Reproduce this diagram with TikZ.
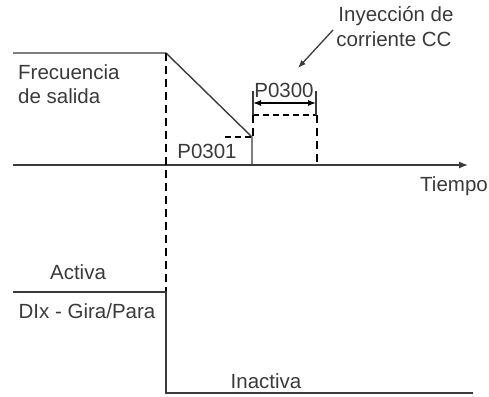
\documentclass[tikz,border=0pt]{standalone}
\usepackage{fontspec}
\setmainfont{Liberation Sans}
\usetikzlibrary{arrows.meta}
\definecolor{ink}{HTML}{3A3A3A}
\begin{document}
\begin{tikzpicture}[x=1pt,y=-1pt,
  lbl/.style={font=\fontsize{20.5}{24}\selectfont, text=ink, inner sep=0pt},
  sig/.style={draw=ink, line width=1.4pt},
  dsh/.style={draw=black, line width=1.4pt, dash pattern=on 6pt off 4pt},
  dsht/.style={draw=black, line width=1.1pt, dash pattern=on 8pt off 5pt}]
\useasboundingbox (0,0) rectangle (489,396);
% coordinates
\coordinate (f0) at (13,53);
\coordinate (f1) at (166,53);
\coordinate (f2) at (252,137);
\coordinate (f3) at (252,165);
\coordinate (ax0) at (13,165);
\coordinate (ax1) at (468,165);
\coordinate (d0) at (225,137);
\coordinate (b0) at (253,115);
\coordinate (b1) at (317,115);
\coordinate (b2) at (317,165);
\coordinate (b3) at (253,137);
\coordinate (t0a) at (253,91);
\coordinate (t0b) at (253,115);
\coordinate (t1a) at (316,91);
\coordinate (t1b) at (316,115);
\coordinate (a0) at (253,103);
\coordinate (a1) at (316,103);
\coordinate (v0) at (166,53);
\coordinate (v1) at (166,292);
\coordinate (g0) at (13,292);
\coordinate (g1) at (166,292);
\coordinate (g2) at (166,393);
\coordinate (g3) at (473,393);
\coordinate (ar0) at (333,30);
\coordinate (ar1) at (298,68);
% output frequency
\draw[sig] (f0) -- (f1) -- (f2) -- (f3);
\draw[draw=ink, line width=1.3pt, -{Latex[length=9pt,width=7pt]}] (ax0) -- (ax1);
\draw[dsh] (d0) -- (f2);
\draw[dsh] (b0) -- (b1);
\draw[dsht] (b1) -- (b2);
\draw[dsht] (b0) -- (b3);
\draw[draw=ink, line width=1.1pt] (t0a) -- (t0b) (t1a) -- (t1b);
\draw[draw=black, line width=1.3pt, {Latex[length=8pt,width=6pt]}-{Latex[length=8pt,width=6pt]}] (a0) -- (a1);
\draw[dsht] (v0) -- (v1);
% digital input
\draw[sig] (g0) -- (g1) -- (g2) -- (g3);
\draw[draw=ink, line width=1.3pt, -{Latex[length=8pt,width=6pt]}] (ar0) -- (ar1);
% labels
\node[lbl, anchor=base west] (lf) at (18,79) {Frecuencia};
\node[lbl, anchor=base west] (lf2) at (18,103) {de salida};
\node[lbl, anchor=base] (l300) at (284,97) {P0300};
\node[lbl, anchor=base] (l301) at (207,158) {P0301};
\node[lbl, anchor=base west] (lt) at (420,191) {Tiempo};
\node[lbl, anchor=base] (li1) at (396,22) {Inyección de};
\node[lbl, anchor=base] (li2) at (394,46) {corriente CC};
\node[lbl, anchor=base] (lac) at (78,279) {Activa};
\node[lbl, anchor=base] (ldi) at (87,318) {DIx - Gira/Para};
\node[lbl, anchor=base] (lin) at (266,388) {Inactiva};
\end{tikzpicture}
\end{document}
